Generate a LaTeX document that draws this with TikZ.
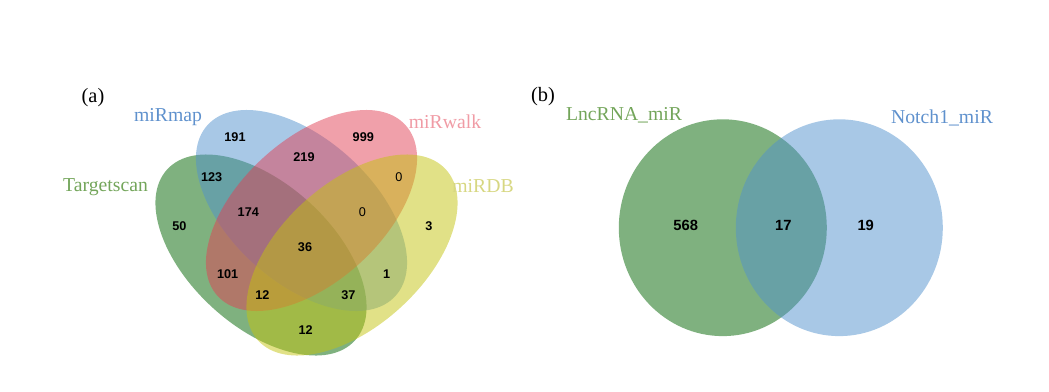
\documentclass[tikz,border=0pt]{standalone}
\usepackage{fontspec}
\setmainfont{Liberation Serif}
\newfontfamily\numfont{Liberation Sans}

\definecolor{tsgreen}{RGB}{0,100,0}
\definecolor{mapblue}{RGB}{81,145,205}
\definecolor{walkred}{RGB}{225,65,85}
\definecolor{dbyellow}{RGB}{195,195,15}
\definecolor{tstext}{RGB}{115,165,90}
\definecolor{maptext}{RGB}{95,145,205}
\definecolor{walktext}{RGB}{240,155,165}
\definecolor{dbtext}{RGB}{215,215,130}

\tikzset{
  setfill/.style={fill=#1, fill opacity=0.5},
  setname/.style={text=#1, font=\fontsize{14}{16}\selectfont, inner sep=0pt},
  num/.style={font=\numfont\bfseries\fontsize{9}{10}\selectfont, inner sep=0pt},
  numzero/.style={font=\numfont\fontsize{9}{10}\selectfont, inner sep=0pt},
  bignum/.style={font=\numfont\bfseries\fontsize{10.5}{12}\selectfont, inner sep=0pt},
  panel/.style={font=\fontsize{14.5}{16}\selectfont, inner sep=0pt}
}

\begin{document}
\begin{tikzpicture}[x=0.025cm,y=0.025cm]
\useasboundingbox (0,0) rectangle (1049,391);

%% (a) four sets
\node[panel] (tagA) at (93,293) {(a)};
% Targetscan
\fill[setfill=tsgreen, rotate around={-42.3:(261,136)}] (261,136) ellipse (127 and 71.5);
% miRmap
\fill[setfill=mapblue, rotate around={-42.3:(301.5,180.5)}] (301.5,180.5) ellipse (127 and 71.5);
% miRwalk
\fill[setfill=walkred, rotate around={42.3:(311.5,180.5)}] (311.5,180.5) ellipse (127 and 71.5);
% miRDB
\fill[setfill=dbyellow, rotate around={42.3:(352,136)}] (352,136) ellipse (127 and 71.5);

\node[setname=tstext] (ts) at (105.5,204.3) {Targetscan};
\node[setname=maptext] (map) at (168,274) {miRmap};
\node[setname=walktext] (walk) at (445,269) {miRwalk};
\node[setname=dbtext] (db) at (483,205) {miRDB};

% counts
\node[num] (nB) at (235,254.3) {191};
\node[num] (nC) at (363.3,254.3) {999};
\node[num] (nBC) at (304,233.7) {219};
\node[num] (nAB) at (211.7,213.7) {123};
\node[numzero] (nCD) at (399,213.7) {0};
\node[num] (nABC) at (248.3,178.7) {174};
\node[numzero] (nBCD) at (362.3,178.7) {0};
\node[num] (nA) at (179.3,165.3) {50};
\node[num] (nD) at (429,165.3) {3};
\node[num] (nABCD) at (305,144.3) {36};
\node[num] (nAC) at (227.7,117) {101};
\node[num] (nBD) at (386.7,117) {1};
\node[num] (nACD) at (262.3,95.7) {12};
\node[num] (nABD) at (348.3,95.7) {37};
\node[num] (nAD) at (305.7,61) {12};

%% (b) two sets
\node[panel] (tagB) at (543,294) {(b)};
% LncRNA_miR
\fill[setfill=tsgreen] (722.8,163.3) ellipse (104 and 108.4);
% Notch1_miR
\fill[setfill=mapblue] (839.3,163.3) ellipse (103.5 and 108.4);

\node[setname=tstext] (lnc) at (624,276) {LncRNA\_miR};
\node[setname=maptext] (notch) at (942,273) {Notch1\_miR};

\node[bignum] (nL) at (685.7,166) {568};
\node[bignum] (nLN) at (783.3,166) {17};
\node[bignum] (nN) at (865.7,166) {19};

\end{tikzpicture}
\end{document}
